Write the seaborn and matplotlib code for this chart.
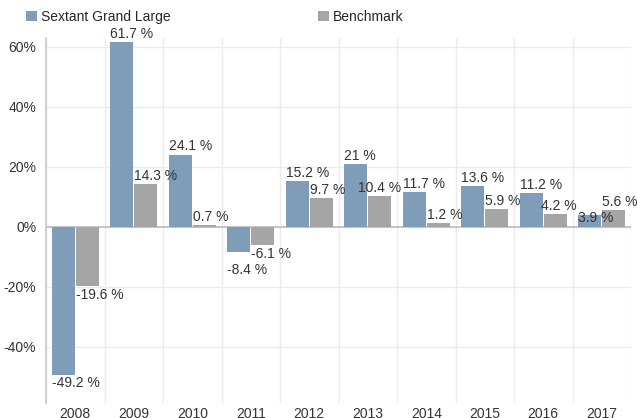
import matplotlib
matplotlib.use("Agg")
import matplotlib.pyplot as plt
import seaborn as sns
import pandas as pd
from matplotlib.patches import Patch

years = ["2008", "2009", "2010", "2011", "2012", "2013", "2014", "2015", "2016", "2017"]
sextant = [-49.2, 61.7, 24.1, -8.4, 15.2, 21, 11.7, 13.6, 11.2, 3.9]
benchmark = [-19.6, 14.3, 0.7, -6.1, 9.7, 10.4, 1.2, 5.9, 4.2, 5.6]
series_names = ["Sextant Grand Large", "Benchmark"]
colors = ["#7F9DB8", "#A5A5A5"]

df = pd.DataFrame({
    "year": years * 2,
    "value": sextant + benchmark,
    "series": [series_names[0]] * len(years) + [series_names[1]] * len(years),
})

sns.set_theme(style="white")
plt.rcParams["font.family"] = ["Liberation Sans", "DejaVu Sans"]

fig = plt.figure(figsize=(6.37, 4.18), dpi=100)
ax = fig.add_axes([46 / 637, 1 - 403 / 418, (631 - 46) / 637, (403 - 38) / 418])

sns.barplot(data=df, x="year", y="value", hue="series", palette=colors,
            order=years, hue_order=series_names, width=0.83, ax=ax,
            legend=False, saturation=1, edgecolor="none", linewidth=0)

ax.set_xlim(-0.5, len(years) - 0.5)
ax.set_ylim(-58.7, 63)

n = len(years)
bars = list(ax.patches)[:2 * n]
labels = []
for p in bars:
    w = p.get_width()
    p.set_x(p.get_x() + 0.01)
    p.set_width(w - 0.02)
    h = p.get_height()
    x0 = p.get_x()
    if h >= 0:
        t = ax.text(x0, h + 0.4, f"{h:g} %", ha="left", va="bottom", fontsize=10, color="#333333")
    else:
        t = ax.text(x0, h - 0.6, f"{h:g} %", ha="left", va="top", fontsize=10, color="#333333")
    labels.append(t)

# simple collision avoidance
fig.canvas.draw()
renderer = fig.canvas.get_renderer()
inv = ax.transData.inverted()
for i in range(n):
    a, b = labels[i], labels[n + i]
    ba, bb = a.get_window_extent(renderer), b.get_window_extent(renderer)
    if ba.overlaps(bb):
        y_bottom_b = inv.transform((0, bb.y0))[1]
        a.set_va("top")
        a.set_y(y_bottom_b - 0.8)
fig.canvas.draw()
px_per_unit = ax.transData.transform((1, 0))[0] - ax.transData.transform((0, 0))[0]
for i in range(n - 1):
    b, nxt = labels[n + i], labels[i + 1]
    bb, bn = b.get_window_extent(renderer), nxt.get_window_extent(renderer)
    if bb.overlaps(bn):
        shift = (bb.x1 - bn.x0 + 1) / px_per_unit
        b.set_x(b.get_position()[0] - shift)

ax.axhline(0, color="#BDBDBD", linewidth=1.2, zorder=0.9)
ax.set_yticks([-40, -20, 0, 20, 40, 60])
ax.set_yticklabels([f"{t}%" for t in [-40, -20, 0, 20, 40, 60]])
ax.set_xlabel("")
ax.set_ylabel("")
ax.set_xticks(range(n))
ax.set_xticklabels(years)
ax.set_xticks([i + 0.5 for i in range(-1, n)], minor=True)
ax.tick_params(axis="both", which="both", length=0, labelsize=10, colors="#333333")
ax.tick_params(axis="x", pad=3)
ax.tick_params(axis="y", pad=7)
ax.grid(axis="y", which="major", color="#EBEBEB", linewidth=1)
ax.grid(axis="x", which="minor", color="#EBEBEB", linewidth=1)
ax.grid(axis="x", which="major", visible=False)
ax.set_axisbelow(True)
for s in ["top", "right", "bottom"]:
    ax.spines[s].set_visible(False)
ax.spines["left"].set_color("#C8C8C8")
ax.spines["left"].set_linewidth(1.2)

handles = [Patch(facecolor=c, edgecolor="none") for c in colors]
fig.legend(handles, series_names, loc="upper left", bbox_to_anchor=(0.025, 1.0),
           ncol=2, frameon=False, fontsize=10, handlelength=0.8, handleheight=0.8,
           handletextpad=0.3, columnspacing=10.6, borderaxespad=0.3)

fig.savefig("out.png", dpi=100)
